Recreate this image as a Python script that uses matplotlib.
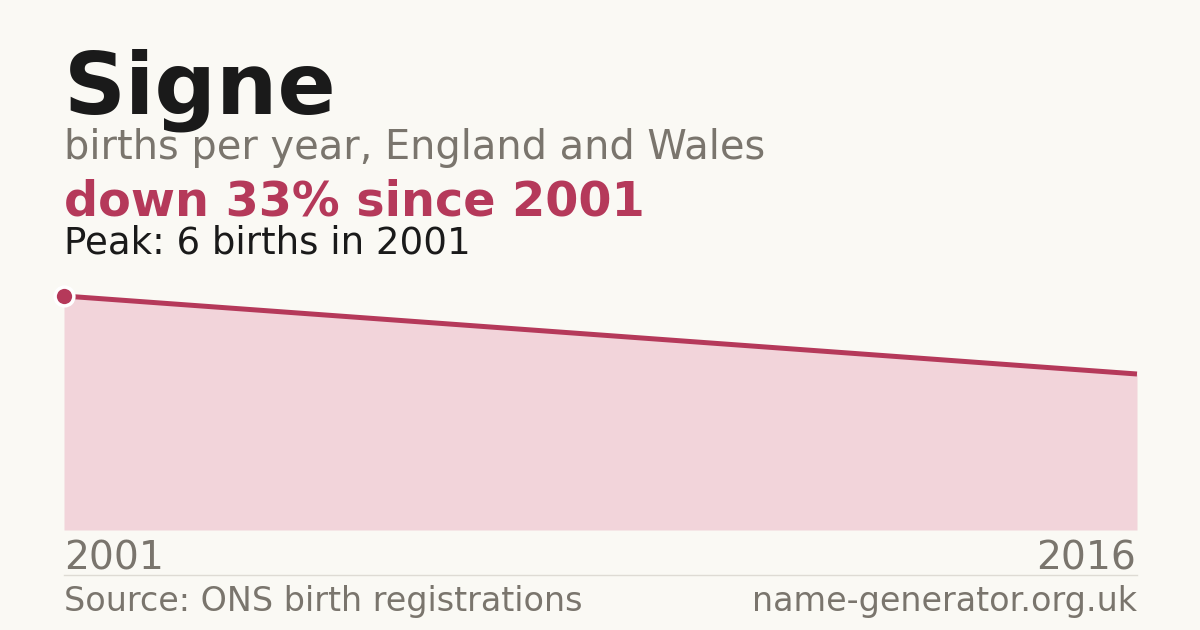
import matplotlib
matplotlib.use("Agg")
import matplotlib.pyplot as plt
from matplotlib.lines import Line2D

plt.rcParams["font.family"] = ["DejaVu Sans"]

# data
years = [2001, 2016]
births = [6, 4]
name = "Signe"
subtitle = "births per year, England and Wales"
headline = "down 33% since 2001"
peak_note = "Peak: 6 births in 2001"
source = "Source: ONS birth registrations"
site = "name-generator.org.uk"

BG = "#faf9f4"
RED = "#b5395a"
FILL = "#f2d4da"
GREY = "#7a756d"
DARK = "#1a1a1a"

W, H = 1200, 630
fig = plt.figure(figsize=(W / 100, H / 100), dpi=100, facecolor=BG)


def fx(px):
    return px / W


def fy(py):
    # py measured from the top of the picture
    return 1 - py / H


left, right = 64, 1137
top_val_px, base_px = 296, 530

ax = fig.add_axes([fx(left), fy(base_px), fx(right - left), (base_px - top_val_px) / H])
ax.set_facecolor("none")
ax.fill_between(years, births, 0, color=FILL, lw=0)
ax.plot(years, births, color=RED, lw=3.6, solid_capstyle="butt", clip_on=False)
ax.plot(years[0], births[0], "o", ms=13.5, color=RED, mec="white", mew=2.5, clip_on=False)
ax.set_xlim(years[0], years[-1])
ax.set_ylim(0, max(births))
ax.axis("off")

fig.text(fx(left), fy(114), name, fontsize=62, fontweight="bold", color=DARK, va="baseline")
fig.text(fx(left), fy(159), subtitle, fontsize=28.7, color=GREY, va="baseline")
fig.text(fx(left), fy(215), headline, fontsize=34.4, fontweight="bold", color=RED, va="baseline")
fig.text(fx(left), fy(254), peak_note, fontsize=26.7, color=DARK, va="baseline")

fig.text(fx(left), fy(570), str(years[0]), fontsize=28.3, color=GREY, va="baseline")
fig.text(fx(right - 1), fy(570), str(years[-1]), fontsize=28.3, color=GREY, va="baseline", ha="right")

fig.add_artist(Line2D([fx(left), fx(right)], [fy(574.5), fy(574.5)], color="#dedbd4", lw=1))

fig.text(fx(left), fy(611), source, fontsize=24, color=GREY, va="baseline")
fig.text(fx(right), fy(611), site, fontsize=24, color=GREY, va="baseline", ha="right")

fig.savefig("out.png", dpi=100, facecolor=BG)
